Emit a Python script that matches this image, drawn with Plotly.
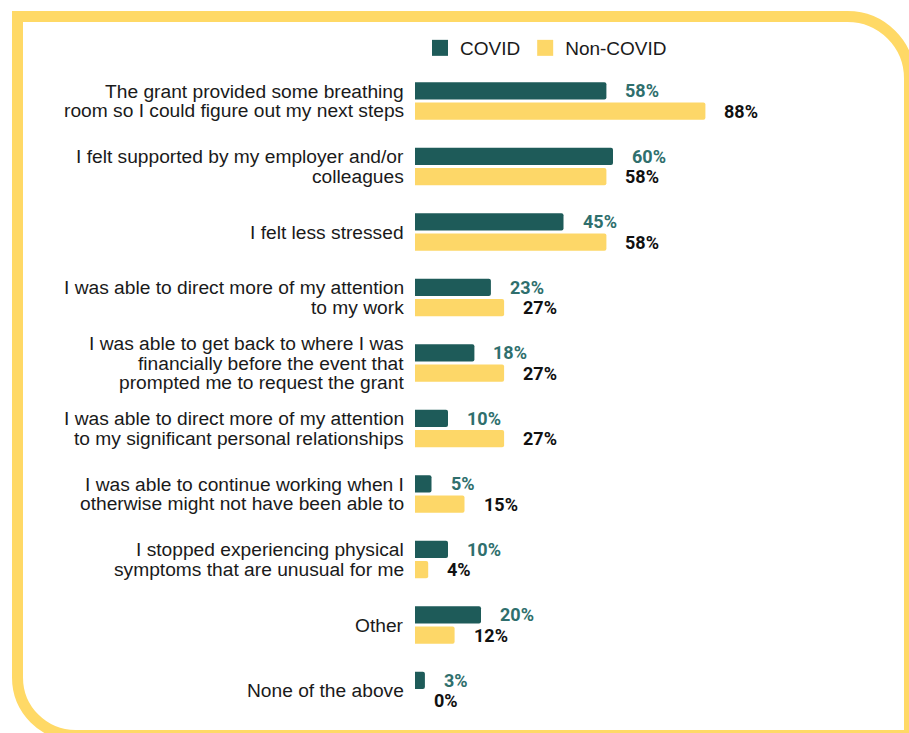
import plotly.graph_objects as go

# Survey responses: effect of the grant, COVID vs non-COVID recipients (%)
categories = [
    "The grant provided some breathing<br>room so I could figure out my next steps",
    "I felt supported by my employer and/or<br>colleagues",
    "I felt less stressed",
    "I was able to direct more of my attention<br>to my work",
    "I was able to get back to where I was<br>financially before the event that<br>prompted me to request the grant",
    "I was able to direct more of my attention<br>to my significant personal relationships",
    "I was able to continue working when I<br>otherwise might not have been able to",
    "I stopped experiencing physical<br>symptoms that are unusual for me",
    "Other",
    "None of the above",
]
covid = [58, 60, 45, 23, 18, 10, 5, 10, 20, 3]
non_covid = [88, 58, 58, 27, 27, 27, 15, 4, 12, 0]

series_names = ["COVID", "Non-COVID"]
bar_colors = ["#1E5B59", "#FDD768"]
label_colors = ["#2F6F6D", "#111111"]

W, H = 909, 733
TEXT_FONT = "Liberation Sans, Arial, sans-serif"


def px(x):
    return x / W


def py(y):
    return 1 - y / H


fig = go.Figure()

for name, vals, col in zip(series_names, [covid, non_covid], bar_colors):
    fig.add_trace(go.Bar(
        name=name, x=vals, y=categories, orientation="h",
        marker=dict(color=col, line=dict(width=0)),
        showlegend=False, hoverinfo="x",
    ))
    # legend entry with a larger square swatch
    fig.add_trace(go.Scatter(
        name=name, x=[None], y=[None], mode="markers",
        marker=dict(symbol="square", size=16, color=col),
        showlegend=True,
    ))

annotations = []

# category labels, right-aligned left of the bars, with tight line spacing
line_gap = 19.5
for cat in categories:
    lines = cat.split("<br>")
    n = len(lines)
    for i, ln in enumerate(lines):
        annotations.append(dict(
            x=px(406), y=cat, xref="paper", yref="y", text=ln,
            showarrow=False, xanchor="right", yanchor="middle", align="right",
            yshift=((n - 1) / 2 - i) * line_gap,
            font=dict(family=TEXT_FONT, size=19.2, color="#1a1a1a"),
        ))

# value labels to the right of each bar
for vals, tcol, shift in zip([covid, non_covid], label_colors, [10.15, -10.15]):
    for cat, v in zip(categories, vals):
        annotations.append(dict(
            x=v, y=cat, xref="x", yref="y", text=f"{v}%",
            showarrow=False, xanchor="left", yanchor="middle",
            xshift=17, yshift=shift,
            font=dict(family="Roboto", size=18, color=tcol, weight="bold"),
        ))


# rounded yellow frame around the chart
def corner(x0, y0, x1, y1, cx, cy):
    k = 0.5523
    c1 = (x0 + (cx - x0) * k, y0 + (cy - y0) * k)
    c2 = (x1 + (cx - x1) * k, y1 + (cy - y1) * k)
    return f" L{px(x0)},{py(y0)} C{px(c1[0])},{py(c1[1])} {px(c2[0])},{py(c2[1])} {px(x1)},{py(y1)}"


left, top, right, bottom = 17.5, 16.5, 909.5, 735.5
r_tr, r_bl = 62, 58
path = f"M{px(left)},{py(top)}"
path += corner(right - r_tr, top, right, top + r_tr, right, top)
path += f" L{px(right)},{py(bottom + 20)}"
path += f" L{px(right)},{py(bottom)}"
path += corner(left + r_bl, bottom, left, bottom - r_bl, left, bottom)
path += " Z"

shapes = [dict(
    type="path", xref="paper", yref="paper", path=path,
    line=dict(color="#FFD966", width=11), fillcolor="rgba(0,0,0,0)",
    layer="below",
)]

x_start = 415
scale = 3.3  # px per percentage point
x_max = 140

fig.update_layout(
    width=W, height=H,
    margin=dict(l=0, r=0, t=0, b=0),
    paper_bgcolor="white", plot_bgcolor="white",
    barmode="group", bargap=0.38, bargroupgap=0.148,
    barcornerradius=2,
    font=dict(family=TEXT_FONT, size=19, color="#1a1a1a"),
    xaxis=dict(
        domain=[px(x_start), px(x_start + scale * x_max)],
        range=[0, x_max], visible=False, fixedrange=True,
    ),
    yaxis=dict(
        domain=[py(723.25), py(68.25)],
        range=[9.5, -0.5], type="category",
        showgrid=False, zeroline=False, showline=False, ticks="",
        showticklabels=False, fixedrange=True,
    ),
    legend=dict(
        orientation="h", x=px(420), y=py(48), xanchor="left", yanchor="middle",
        font=dict(family=TEXT_FONT, size=19, color="#1a1a1a"),
        itemclick=False, itemdoubleclick=False,
    ),
    annotations=annotations,
    shapes=shapes,
)

fig.write_html("out.html")
